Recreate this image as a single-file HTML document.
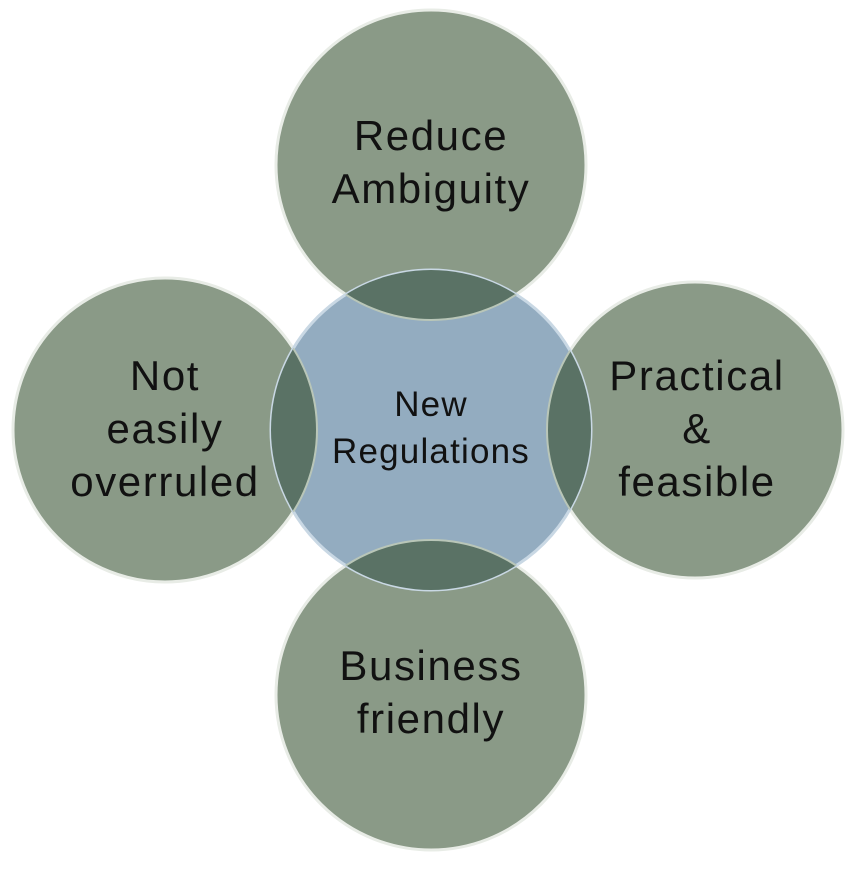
<!DOCTYPE html>
<html><head><style>
html,body{margin:0;padding:0;background:#fff;}
text{font-family:"Liberation Sans",sans-serif;fill:#111;text-anchor:middle;}
.o{font-size:42px;letter-spacing:1.6px;}
.c{font-size:35px;letter-spacing:1.2px;}
</style></head><body>
<svg width="864" height="864" viewBox="0 0 864 864" xmlns="http://www.w3.org/2000/svg">
<defs>
<clipPath id="cc"><circle cx="431" cy="430" r="160"/></clipPath>
</defs>
<g stroke="#e8ece6" stroke-width="3">
<circle cx="431" cy="165" r="155" fill="#8a9a87"/>
<circle cx="431" cy="695" r="155" fill="#8a9a87"/>
<circle cx="165" cy="430" r="152" fill="#8a9a87"/>
<circle cx="695" cy="430" r="148" fill="#8a9a87"/>
<circle cx="431" cy="430" r="160" fill="#93acc0" stroke="#c9d8e4"/>
</g>
<g clip-path="url(#cc)" fill="#5a7265" stroke="#b9c6b8" stroke-width="2">
<circle cx="431" cy="165" r="155"/>
<circle cx="431" cy="695" r="155"/>
<circle cx="165" cy="430" r="152"/>
<circle cx="695" cy="430" r="148"/>
</g>
<text class="o" x="431" y="150">Reduce</text>
<text class="o" x="431" y="203">Ambiguity</text>
<text class="o" x="431" y="680">Business</text>
<text class="o" x="431" y="733">friendly</text>
<text class="o" x="165" y="390">Not</text>
<text class="o" x="165" y="443">easily</text>
<text class="o" x="165" y="496">overruled</text>
<text class="o" x="697" y="390">Practical</text>
<text class="o" x="697" y="443">&amp;</text>
<text class="o" x="697" y="496">feasible</text>
<text class="c" x="431" y="416">New</text>
<text class="c" x="431" y="463">Regulations</text>
</svg>
</body></html>
